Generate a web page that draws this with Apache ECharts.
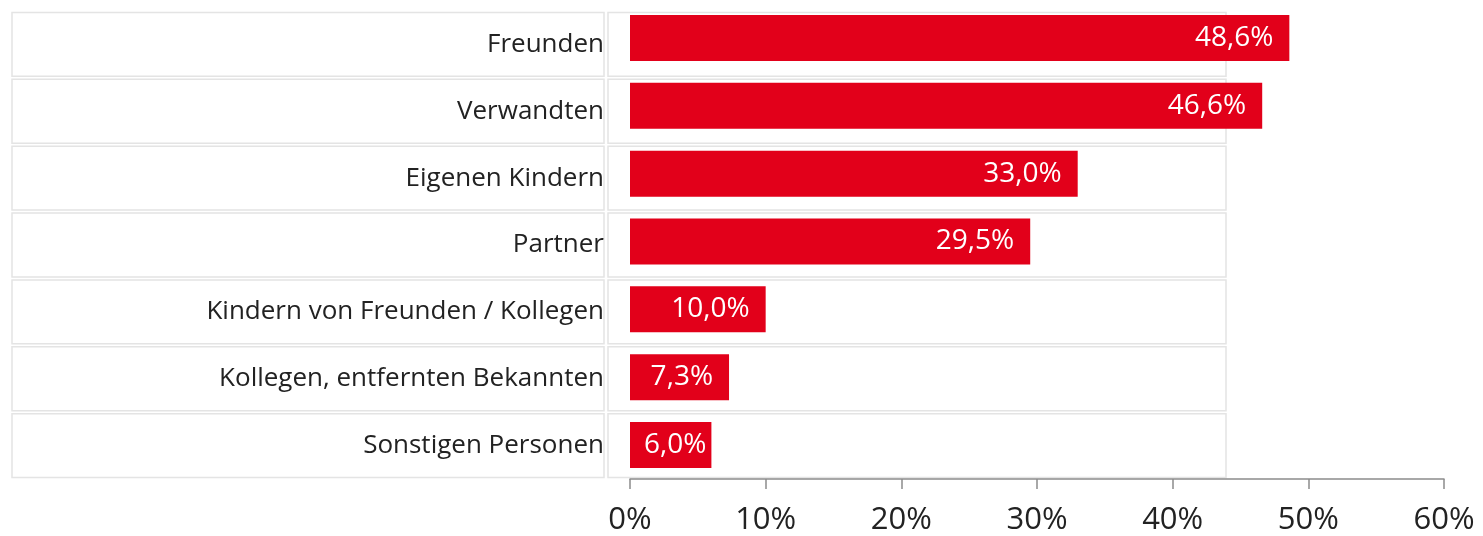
<!DOCTYPE html>
<html>
<head>
<meta charset="utf-8">
<script src="https://cdn.jsdelivr.net/npm/echarts@6/dist/echarts.min.js"></script>
<style>
  html, body { margin: 0; padding: 0; background: #fff; }
  #chart { width: 1483px; height: 536px; }
</style>
</head>
<body>
<div id="chart"></div>
<script>
// Daten
const categories = [
  "Freunden",
  "Verwandten",
  "Eigenen Kindern",
  "Partner",
  "Kindern von Freunden / Kollegen",
  "Kollegen, entfernten Bekannten",
  "Sonstigen Personen"
];
const values = [48.6, 46.6, 33.0, 29.5, 10.0, 7.3, 6.0];
const xTicks = [0, 10, 20, 30, 40, 50, 60];

const font = "Open Sans";
const red = "#e2001a";

let myChart = echarts.init(document.getElementById("chart"));

// label innen rechts, bei kurzen Balken innen links
let barData = values.map(function (v) {
  let item = { value: v };
  if (v < 7) {
    item.label = { position: "insideLeft", distance: 14 };
  }
  return item;
});

let options = {
  animation: false,
  grid: [
    { left: 630, right: 39, top: 4, bottom: 56 },
    { left: 630, right: 39, top: 11, bottom: 57 }
  ],
  xAxis: [
    {
      gridIndex: 0,
      type: "value",
      min: xTicks[0],
      max: xTicks[xTicks.length - 1],
      interval: 10,
      z: 10,
      axisLine: { show: true, lineStyle: { color: "#8c8c8c", width: 1.5 } },
      axisTick: { show: true, length: 10, lineStyle: { color: "#8c8c8c", width: 1.5 } },
      splitLine: { show: false },
      axisLabel: {
        formatter: "{value}%",
        fontFamily: font,
        fontSize: 31,
        color: "#222",
        margin: 26
      }
    },
    {
      gridIndex: 1,
      type: "value",
      min: 0,
      max: 60,
      show: false
    }
  ],
  yAxis: [
    {
      gridIndex: 0,
      type: "category",
      data: categories,
      inverse: true,
      show: false
    },
    {
      gridIndex: 1,
      type: "category",
      data: categories,
      inverse: true,
      z: 10,
      axisLine: { show: false },
      axisTick: { show: false },
      axisLabel: {
        fontFamily: font,
        fontSize: 26,
        color: "#222",
        margin: 26
      }
    }
  ],
  series: [
    {
      // Zeilenkästen
      type: "custom",
      xAxisIndex: 1,
      yAxisIndex: 1,
      silent: true,
      clip: false,
      z: 0,
      data: categories.map(function (c, i) { return [0, i]; }),
      renderItem: function (params, api) {
        let center = api.coord([0, api.value(1)]);
        let band = api.size([0, 1])[1];
        let h = band - 3;
        let top = center[1] - h / 2;
        let style = { fill: "#fff", stroke: "#e4e4e4", lineWidth: 1.5 };
        return {
          type: "group",
          children: [
            { type: "rect", shape: { x: 12, y: top, width: 592, height: h }, style: style },
            { type: "rect", shape: { x: 608, y: top, width: 618, height: h }, style: style }
          ]
        };
      }
    },
    {
      type: "bar",
      xAxisIndex: 0,
      yAxisIndex: 0,
      data: barData,
      barWidth: 46,
      z: 3,
      itemStyle: { color: red },
      label: {
        show: true,
        position: "insideRight",
        distance: 16,
        color: "#fff",
        fontFamily: font,
        fontSize: 28,
        formatter: function (p) {
          return p.value.toFixed(1).replace(".", ",") + "%";
        }
      }
    }
  ]
};

myChart.setOption(options);
</script>
</body>
</html>
